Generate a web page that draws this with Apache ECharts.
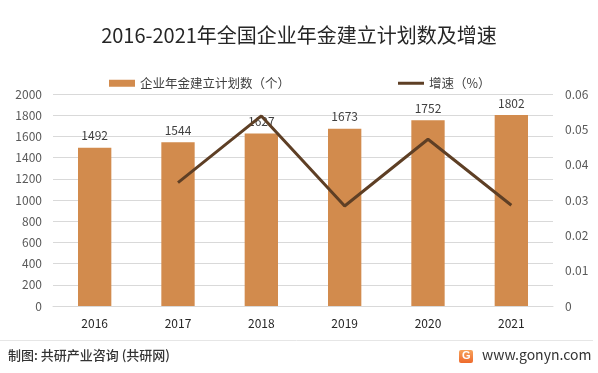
<!DOCTYPE html>
<html>
<head>
<meta charset="utf-8">
<script src="https://cdn.jsdelivr.net/npm/echarts@6/dist/echarts.min.js"></script>
<style>html,body{margin:0;padding:0;background:#fff}#c{width:598px;height:373px}</style>
</head>
<body>
<div id="c"></div>
<script>
const categories = ['2016', '2017', '2018', '2019', '2020', '2021'];
const planCounts = [1492, 1544, 1627, 1673, 1752, 1802];
const growthRates = [null, 0.0349, 0.0538, 0.0283, 0.0472, 0.0285];
const seriesNames = ['企业年金建立计划数（个）', '增速（%）'];
const titleText = '2016-2021年全国企业年金建立计划数及增速';
const sourceText = '制图: 共研产业咨询 (共研网)';
const siteText = 'www.gonyn.com';

const FONT = '"Noto Sans CJK SC", "Noto Sans", sans-serif';
const chart = echarts.init(document.getElementById('c'), null, {renderer: 'canvas'});
chart.setOption({
  backgroundColor: '#fff',
  animation: false,
  title: {
    text: titleText, left: 'center', top: 20,
    textStyle: {fontFamily: FONT, fontSize: 20, fontWeight: 'normal', color: '#262626'}
  },
  legend: {
    left: 104, top: 72, itemWidth: 26, itemHeight: 7, itemGap: 108,
    textStyle: {fontFamily: FONT, fontSize: 12.5, color: '#404040'},
    data: [{name: seriesNames[0], icon: 'rect'}, {name: seriesNames[1], icon: 'path://M0,0H26V3H0Z'}]
  },
  grid: {left: 53, right: 45, top: 94, bottom: 67},
  xAxis: {
    type: 'category', data: categories,
    axisLine: {lineStyle: {color: '#D9D9D9'}},
    axisTick: {show: false},
    axisLabel: {fontFamily: FONT, fontSize: 12, color: '#262626', margin: 11}
  },
  yAxis: [{
    type: 'value', min: 0, max: 2000, interval: 200,
    axisLine: {show: false}, axisTick: {show: false},
    splitLine: {lineStyle: {color: '#D9D9D9'}},
    axisLabel: {fontFamily: FONT, fontSize: 12, color: '#595959', margin: 11, formatter: v => String(v)}
  }, {
    type: 'value', min: 0, max: 0.06, interval: 0.01,
    axisLine: {show: false}, axisTick: {show: false},
    splitLine: {show: false},
    axisLabel: {fontFamily: FONT, fontSize: 12, color: '#595959', margin: 12,
      formatter: v => v === 0 ? '0' : v.toFixed(2)}
  }],
  series: [{
    name: seriesNames[0], type: 'bar', data: planCounts, barWidth: '40%',
    itemStyle: {color: '#D28B4D'},
    label: {show: true, position: 'top', distance: 6, fontFamily: FONT, fontSize: 12, color: '#404040'}
  }, {
    name: seriesNames[1], type: 'line', yAxisIndex: 1, data: growthRates,
    symbol: 'none', lineStyle: {color: '#5E3F25', width: 3}, itemStyle: {color: '#5E3F25'}
  }],
  graphic: [
    {type: 'line', shape: {x1: 0, y1: 340.5, x2: 593, y2: 340.5}, style: {stroke: '#E6E6E6', lineWidth: 1}},
    {type: 'text', left: 8, top: 349, style: {text: sourceText, font: '500 13px ' + FONT, fill: '#333'}},
    {type: 'rect', shape: {x: 459, y: 350, width: 14, height: 13, r: 2},
      style: {fill: new echarts.graphic.LinearGradient(0, 0, 0, 1, [{offset: 0, color: '#F7A35C'}, {offset: 1, color: '#EE6A2C'}])}},
    {type: 'text', left: 462, top: 350, style: {text: 'G', font: 'bold 11px sans-serif', fill: '#fff'}},
    {type: 'text', left: 482, top: 348, style: {text: siteText, font: '14px ' + FONT, fill: '#333'}}
  ]
});
</script>
</body>
</html>
